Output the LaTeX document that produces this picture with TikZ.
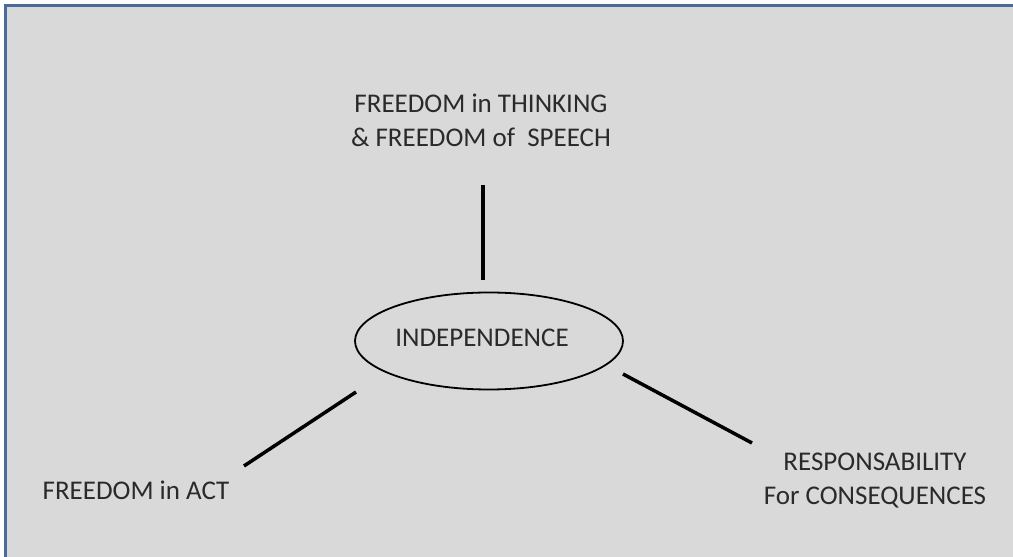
\documentclass[tikz,border=0pt]{standalone}
\usepackage{fontspec}
\setmainfont{Carlito}
\usetikzlibrary{shapes.geometric}
\definecolor{bg}{HTML}{D9D9D9}
\definecolor{frame}{HTML}{4A6A9A}
\definecolor{txt}{HTML}{2A2A2A}
\tikzset{
  lbl/.style={text=txt, font=\fontsize{27}{34}\selectfont, align=center, inner sep=0pt},
  link/.style={line width=3.5pt, black}
}
\begin{document}
\begin{tikzpicture}[x=1pt,y=1pt]
\useasboundingbox (0,0) rectangle (1013,557);
\clip (0,0) rectangle (1013,557);
\fill[white] (0,0) rectangle (1013,557);
\fill[bg] (5,0) rectangle (1013,551);
\fill[frame] (3.5,0) rectangle (6.5,552.5);
\fill[frame] (3.5,549.5) rectangle (1013,552.5);
% nodes
\node[lbl] (top) at (481,437) {FREEDOM in THINKING\\\& FREEDOM of\ \ SPEECH};
\node[draw=black, line width=1.8pt, ellipse, minimum width=268pt, minimum height=97pt, inner sep=0pt] (ind) at (489,216) {};
\node[lbl] (indt) at (482,219) {INDEPENDENCE};
\node[lbl] (act) at (136,67) {FREEDOM in ACT};
\node[lbl] (resp) at (875,76) {RESPONSABILITY\\For CONSEQUENCES};
% connector ends
\coordinate (t1) at (483,372);
\coordinate (t2) at (483,277);
\coordinate (l1) at (356,165);
\coordinate (l2) at (244,91);
\coordinate (r1) at (623,183);
\coordinate (r2) at (752,114);
\draw[link] (t1) -- (t2);
\draw[link] (l1) -- (l2);
\draw[link] (r1) -- (r2);
\end{tikzpicture}
\end{document}
